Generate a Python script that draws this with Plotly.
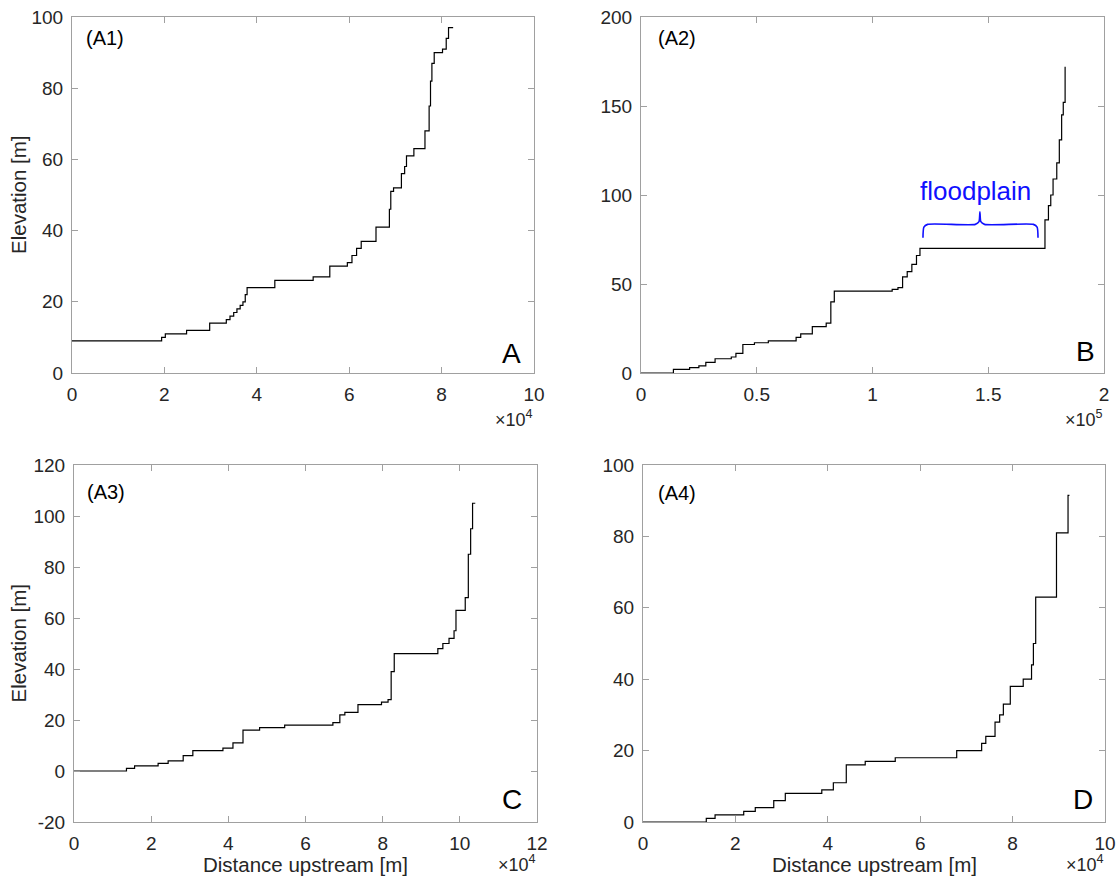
import plotly.graph_objects as go

# ---------------- data ----------------
# Panel A1: distance upstream in units of 1e4 m, elevation in m (step profile)
a1_dist = [0, 1.94, 2.02, 2.48, 2.98, 3.34, 3.42, 3.50, 3.57, 3.64, 3.70, 3.75, 3.79,
           4.39, 5.22, 5.58, 5.96, 6.06, 6.16, 6.26, 6.58, 6.87, 6.90, 6.96, 7.13,
           7.20, 7.24, 7.40, 7.64, 7.73, 7.76, 7.79, 7.84, 8.02, 8.10, 8.15, 8.25]
a1_elev = [9, 10, 11, 12, 14, 15, 16, 17, 18, 19, 20, 22, 24,
           26, 27, 30, 31, 33, 35, 37, 41, 46, 51, 52, 56,
           58, 61, 63, 68, 75, 82, 87, 90, 91, 94, 97, 97]

# Panel A2: distance upstream in units of 1e5 m
a2_dist = [0, 0.14, 0.21, 0.25, 0.28, 0.32, 0.39, 0.41, 0.44, 0.49, 0.55, 0.67, 0.69,
           0.74, 0.80, 0.82, 0.835, 1.085, 1.11, 1.13, 1.15, 1.17, 1.19, 1.205,
           1.745, 1.76, 1.77, 1.78, 1.796, 1.807, 1.817, 1.824, 1.832]
a2_elev = [0, 2, 3, 4, 6, 8, 9, 11, 16, 17, 18, 20, 22,
           26, 28, 40, 46, 47, 48, 54, 57, 61, 66, 70,
           86, 94, 100, 109, 118, 131, 145, 152, 172]

# Panel A3: distance upstream in units of 1e4 m
a3_dist = [0, 1.36, 1.57, 2.18, 2.44, 2.83, 3.08, 3.86, 4.12, 4.38, 4.81, 5.46, 6.71,
           6.89, 7.02, 7.36, 7.97, 8.14, 8.22, 8.30, 9.43, 9.56, 9.72, 9.85, 9.90,
           10.14, 10.22, 10.28, 10.33, 10.40]
a3_elev = [0, 1, 2, 3, 4, 6, 8, 9, 11, 16, 17, 18, 19,
           22, 23, 26, 27, 28, 39, 46, 48, 50, 52, 55, 63,
           68, 85, 95, 105, 105]

# Panel A4: distance upstream in units of 1e4 m
a4_dist = [0, 1.37, 1.56, 2.18, 2.43, 2.83, 3.08, 3.87, 4.12, 4.40, 4.81, 5.46, 6.79,
           7.33, 7.42, 7.62, 7.72, 7.80, 7.95, 8.23, 8.41, 8.45, 8.50, 8.95, 9.20, 9.23]
a4_elev = [0, 1, 2, 3, 4, 6, 8, 9, 11, 16, 17, 18, 20,
           22, 24, 28, 30, 33, 38, 40, 44, 50, 63, 81, 91.5, 91.5]

panel_tags = ["(A1)", "(A2)", "(A3)", "(A4)"]
panel_letters = ["A", "B", "C", "D"]
x_exponents = ["4", "5", "4", "4"]
x_ranges = [[0, 10], [0, 2], [0, 12], [0, 10]]
x_dticks = [2, 0.5, 2, 2]
y_ranges = [[0, 100], [0, 200], [-20, 120], [0, 100]]
y_tickvals = [[0, 20, 40, 60, 80, 100], [0, 50, 100, 150, 200],
              [-20, 0, 20, 40, 60, 80, 100, 120], [0, 20, 40, 60, 80, 100]]
y_title = "Elevation [m]"
x_title = "Distance upstream [m]"

# floodplain brace (panel A2, data units)
brace_x0, brace_x1, brace_tip = 1.218, 1.715, 1.464
brace_y, brace_arm, brace_tip_h = 83.5, 7.5, 7.0
flood_label = "floodplain"

# ---------------- figure ----------------
W, H = 1118, 878
def px_dom(a, b, total):
    return [a / total, b / total]

x_domains = [px_dom(72, 534, W), px_dom(641, 1104, W), px_dom(74, 537, W), px_dom(643, 1105, W)]
y_domains = [[1 - 373 / H, 1 - 17 / H], [1 - 373 / H, 1 - 17 / H],
             [1 - 822 / H, 1 - 465 / H], [1 - 822 / H, 1 - 465 / H]]
tag_pos = [(0.026, 0.942), (0.032, 0.942), (0.024, 0.924), (0.028, 0.921)]
letter_pos = [(0.952, 0.056), (0.961, 0.059), (0.946, 0.062), (0.952, 0.062)]
exp_shift = [-33, -33, -29, -29]

FONT = "Liberation Sans, Arial, Helvetica, sans-serif"
AXC = "#a0a0a0"
TXT = "#262626"

fig = go.Figure()
series = [(a1_dist, a1_elev), (a2_dist, a2_elev), (a3_dist, a3_elev), (a4_dist, a4_elev)]
for i, (xs, ys) in enumerate(series):
    n = "" if i == 0 else str(i + 1)
    fig.add_trace(go.Scatter(x=xs, y=ys, mode="lines", line=dict(color="black", width=1.2, shape="hv"),
                             xaxis="x" + n, yaxis="y" + n, showlegend=False, hoverinfo="x+y"))

# brace path
bx = [brace_x0, brace_x0 + 0.004, brace_x0 + 0.02, brace_tip - 0.02, brace_tip - 0.004, brace_tip,
      brace_tip + 0.004, brace_tip + 0.02, brace_x1 - 0.02, brace_x1 - 0.004, brace_x1]
by = [brace_y - brace_arm, brace_y - 1.5, brace_y, brace_y, brace_y + 1.5, brace_y + brace_tip_h,
      brace_y + 1.5, brace_y, brace_y, brace_y - 1.5, brace_y - brace_arm]
fig.add_trace(go.Scatter(x=bx, y=by, mode="lines", line=dict(color="#1010ff", width=1.6, shape="spline", smoothing=0.6),
                         xaxis="x2", yaxis="y2", showlegend=False, hoverinfo="skip"))

layout = dict(width=W, height=H, margin=dict(l=0, r=0, t=0, b=0, autoexpand=False),
              paper_bgcolor="white", plot_bgcolor="white",
              font=dict(family=FONT, color=TXT))
annotations = []
for i in range(4):
    n = "" if i == 0 else str(i + 1)
    xa = dict(domain=x_domains[i], range=x_ranges[i], dtick=x_dticks[i], tick0=0,
              ticks="inside", ticklen=6, tickcolor=AXC, tickwidth=1,
              showline=True, linecolor=AXC, linewidth=1, mirror="ticks", automargin=False,
              showgrid=False, zeroline=False, anchor="y" + n, ticklabelstandoff=4,
              tickfont=dict(size=19, color=TXT, family=FONT))
    ya = dict(domain=y_domains[i], range=y_ranges[i], tickmode="array",
              tickvals=y_tickvals[i], ticktext=[str(v) for v in y_tickvals[i]],
              ticks="inside", ticklen=6, tickcolor=AXC, tickwidth=1,
              showline=True, linecolor=AXC, linewidth=1, mirror="ticks", automargin=False,
              showgrid=False, zeroline=False, anchor="x" + n, ticklabelstandoff=4,
              tickfont=dict(size=19, color=TXT, family=FONT))
    layout["xaxis" + n] = xa
    layout["yaxis" + n] = ya

    if i in (0, 2):
        annotations.append(dict(text=y_title, xref="paper", yref="y%s domain" % n, x=18 / W, y=0.5,
                                xanchor="center", yanchor="middle", textangle=-90, showarrow=False,
                                font=dict(size=20.5, color=TXT, family=FONT)))
    if i in (2, 3):
        annotations.append(dict(text=x_title, xref="x%s domain" % n, yref="paper", x=0.5, y=1 - 864 / H,
                                xanchor="center", yanchor="middle", showarrow=False,
                                font=dict(size=20.5, color=TXT, family=FONT)))
    annotations.append(dict(text=panel_tags[i], xref="x%s domain" % n, yref="y%s domain" % n,
                            x=tag_pos[i][0], y=tag_pos[i][1], xanchor="left", yanchor="middle", showarrow=False,
                            font=dict(size=20, color="black", family=FONT)))
    annotations.append(dict(text=panel_letters[i], xref="x%s domain" % n, yref="y%s domain" % n,
                            x=letter_pos[i][0], y=letter_pos[i][1], xanchor="center", yanchor="middle",
                            showarrow=False, font=dict(size=28, color="black", family=FONT)))
    annotations.append(dict(text="×10<sup>%s</sup>" % x_exponents[i], xref="x%s domain" % n, yref="y%s domain" % n,
                            x=1.0, y=0, xanchor="right", yanchor="top", yshift=exp_shift[i], showarrow=False,
                            borderpad=0, font=dict(size=18, color=TXT, family=FONT)))

annotations.append(dict(text=flood_label, xref="x2", yref="y2", x=(brace_x0 + brace_x1) / 2 - 0.02, y=brace_y + 19,
                        showarrow=False, font=dict(size=26, color="#1010ff", family=FONT)))
layout["annotations"] = annotations
fig.update_layout(**layout)
fig.write_html("out.html")
